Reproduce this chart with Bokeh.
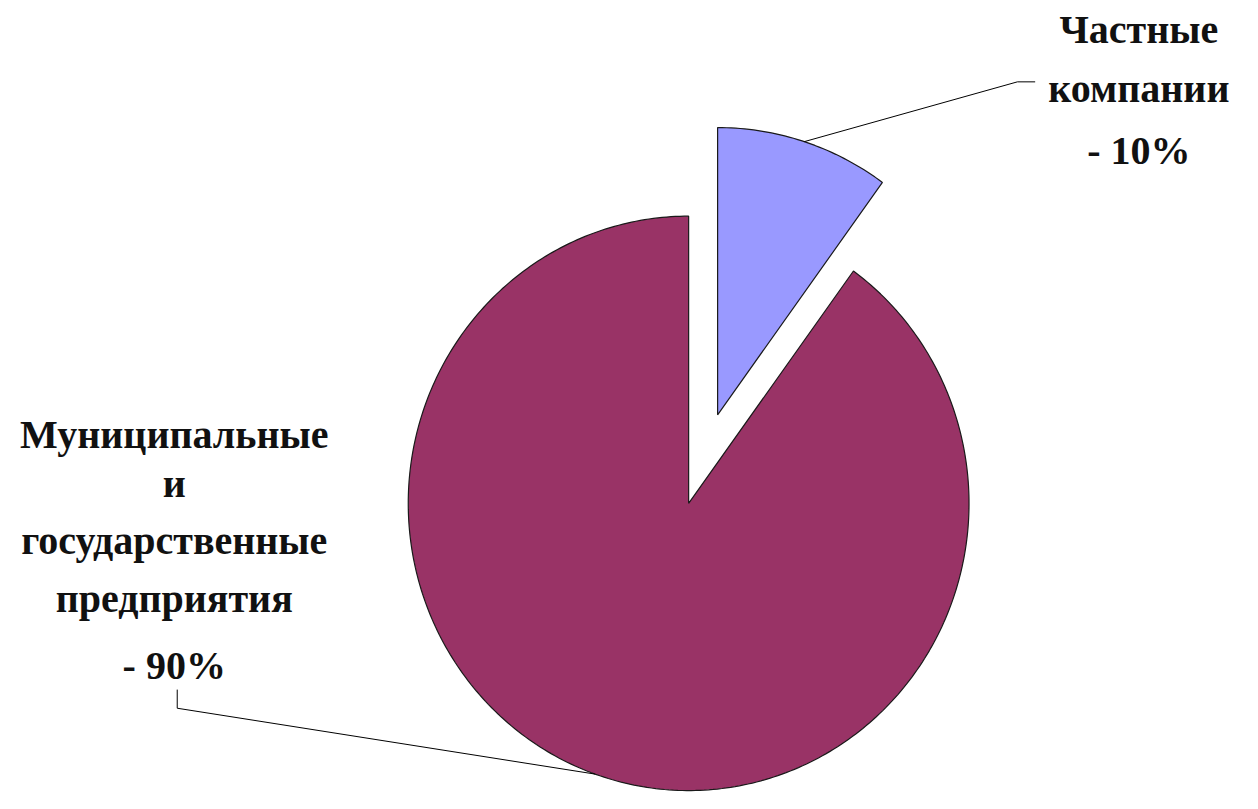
import math
import numpy as np
from bokeh.plotting import figure
from bokeh.models import Range1d
from bokeh.core.properties import value
from bokeh.embed import file_html
from bokeh.resources import INLINE

# ---- data ----
categories = ["Частные компании", "Муниципальные и государственные предприятия"]
shares = [10, 90]
colors = ["#9999FF", "#993366"]
label_private = ["Частные", "компании", "- 10%"]
label_public = ["Муниципальные", "и", "государственные", "предприятия", "- 90%"]

W, H = 1258, 809
p = figure(width=1242, height=793, output_backend="svg", toolbar_location=None,
           x_range=Range1d(0, W), y_range=Range1d(0, H), min_border=0)
p.axis.visible = False
p.grid.visible = False
p.outline_line_color = None
p.background_fill_color = "white"
p.border_fill_color = "white"

# pie layout (reference-pixel coordinates, y flipped); slightly elliptical as in the original
cx, cy = 697, H - 513
RX, RY = 284, 293
explode = [95, 0]

total = sum(shares)
cum = 0.0
wedge_info = []
xs_all, ys_all = [], []
for s, ex in zip(shares, explode):
    f0 = cum / total
    cum += s
    f1 = cum / total
    start = math.pi / 2 - 2 * math.pi * f1
    end = math.pi / 2 - 2 * math.pi * f0
    mid = (start + end) / 2
    x0 = cx + ex * math.cos(mid)
    y0 = cy + ex * math.sin(mid)
    t = np.linspace(start, end, max(8, int(400 * (f1 - f0))))
    xs_all.append([x0] + list(x0 + RX * np.cos(t)) + [x0])
    ys_all.append([y0] + list(y0 + RY * np.sin(t)) + [y0])
    wedge_info.append((x0, y0, start, end, mid))

p.patches(xs=xs_all, ys=ys_all, fill_color=colors, line_color="#1a1a1a", line_width=1.2)

font = value("Liberation Serif")

def draw_label(lines, xc, ys, size):
    for t, yy in zip(lines, ys):
        p.text(x=[xc], y=[H - yy], text=[t], text_font=font, text_font_style="bold",
               text_font_size=size, text_align="center", text_baseline="alphabetic",
               text_color="#111111")

shift = -12
draw_label(label_private, 1153, [v + shift for v in (42, 102, 165)], "40px")
draw_label(label_public, 176, [v + shift for v in (455, 505, 563, 622, 690)], "40px")

# leader lines
bx, by, _, _, bmid = wedge_info[0]
sx0 = bx + RX * math.cos(bmid)
sy0 = by + RY * math.sin(bmid)
p.line(x=[sx0, 1030, 1048], y=[sy0, H - 83, H - 83], line_color="black", line_width=1)

mx, my, _, _, _ = wedge_info[1]
ang = math.radians(250.5)
ex0 = mx + RX * math.cos(ang)
ey0 = my + RY * math.sin(ang)
p.line(x=[ex0, 179, 179], y=[ey0, H - 722, H - 703], line_color="black", line_width=1)

open("out.html", "w").write(file_html(p, INLINE))
